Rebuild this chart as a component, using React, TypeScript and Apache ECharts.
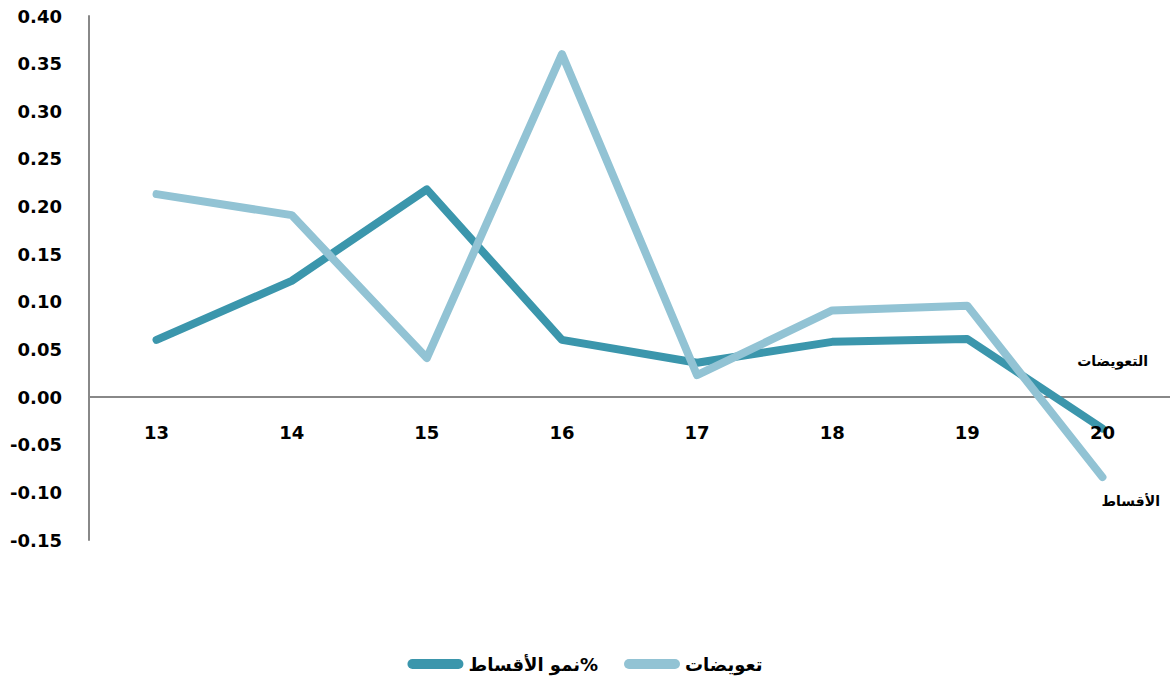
import React, { useEffect, useRef } from "react";
import * as echarts from "echarts";

const categories = ["13", "14", "15", "16", "17", "18", "19", "20"];
const premiumGrowth = [0.06, 0.122, 0.218, 0.06, 0.036, 0.058, 0.061, -0.033];
const compensations = [0.213, 0.191, 0.041, 0.36, 0.023, 0.091, 0.096, -0.084];
const seriesNames = ["نمو الأقساط%", "تعويضات"];
const endNotes = ["التعويضات", "الأقساط"];

const DARK = "#3B96AC";
const LIGHT = "#92C3D4";
const FONT = "DejaVu Sans";
const capsule = "path://M5,0 H51 A5,5 0 0 1 51,10 H5 A5,5 0 0 1 5,0 Z";

export default function App() {
  const ref = useRef<HTMLDivElement>(null);
  useEffect(() => {
    const chart = echarts.init(ref.current!, undefined, { renderer: "svg" });
    chart.setOption({
      animation: false,
      backgroundColor: "#ffffff",
      textStyle: { fontFamily: FONT },
      grid: { left: 89, top: 16, width: 1085, height: 524, containLabel: false },
      legend: {
        bottom: 8,
        left: "center",
        itemWidth: 56,
        itemHeight: 10,
        itemGap: 26,
        icon: capsule,
        textStyle: { fontFamily: FONT, fontWeight: "bold", fontSize: 18, color: "#000" },
        data: seriesNames,
      },
      xAxis: [
        {
          type: "category",
          data: categories,
          boundaryGap: true,
          axisLine: { onZero: true, lineStyle: { color: "#888", width: 2 } },
          axisTick: { show: false },
          axisLabel: { show: false },
          splitLine: { show: false },
        },
        {
          type: "category",
          data: categories,
          boundaryGap: true,
          position: "bottom",
          offset: -143,
          z: 10,
          axisLine: { show: false, onZero: false },
          axisTick: { show: false },
          axisLabel: { margin: 26, fontFamily: FONT, fontWeight: "bold", fontSize: 18, color: "#000" },
          splitLine: { show: false },
        },
      ],
      yAxis: {
        type: "value",
        min: -0.15,
        max: 0.4,
        interval: 0.05,
        axisLine: { show: true, lineStyle: { color: "#888", width: 2 } },
        axisTick: { show: false },
        splitLine: { show: false },
        axisLabel: {
          margin: 27,
          fontFamily: FONT,
          fontWeight: "bold",
          fontSize: 18,
          color: "#000",
          formatter: (v: number) => v.toFixed(2),
        },
      },
      graphic: [
        {
          type: "text",
          right: 22,
          top: 354,
          style: { text: endNotes[0], font: `bold 14px "${FONT}"`, fill: "#000" },
        },
        {
          type: "text",
          right: 10,
          top: 494,
          style: { text: endNotes[1], font: `bold 14px "${FONT}"`, fill: "#000" },
        },
      ],
      series: [
        {
          name: seriesNames[0],
          type: "line",
          data: premiumGrowth,
          symbol: "none",
          z: 3,
          lineStyle: { color: DARK, width: 8, cap: "round", join: "round" },
          itemStyle: { color: DARK },
        },
        {
          name: seriesNames[1],
          type: "line",
          data: compensations,
          symbol: "none",
          z: 4,
          lineStyle: { color: LIGHT, width: 8, cap: "round", join: "round" },
          itemStyle: { color: LIGHT },
        },
      ],
    });
    return () => chart.dispose();
  }, []);
  return (
    <div
      ref={ref}
      style={{ position: "fixed", left: 0, top: 0, width: 1170, height: 686 }}
    />
  );
}
